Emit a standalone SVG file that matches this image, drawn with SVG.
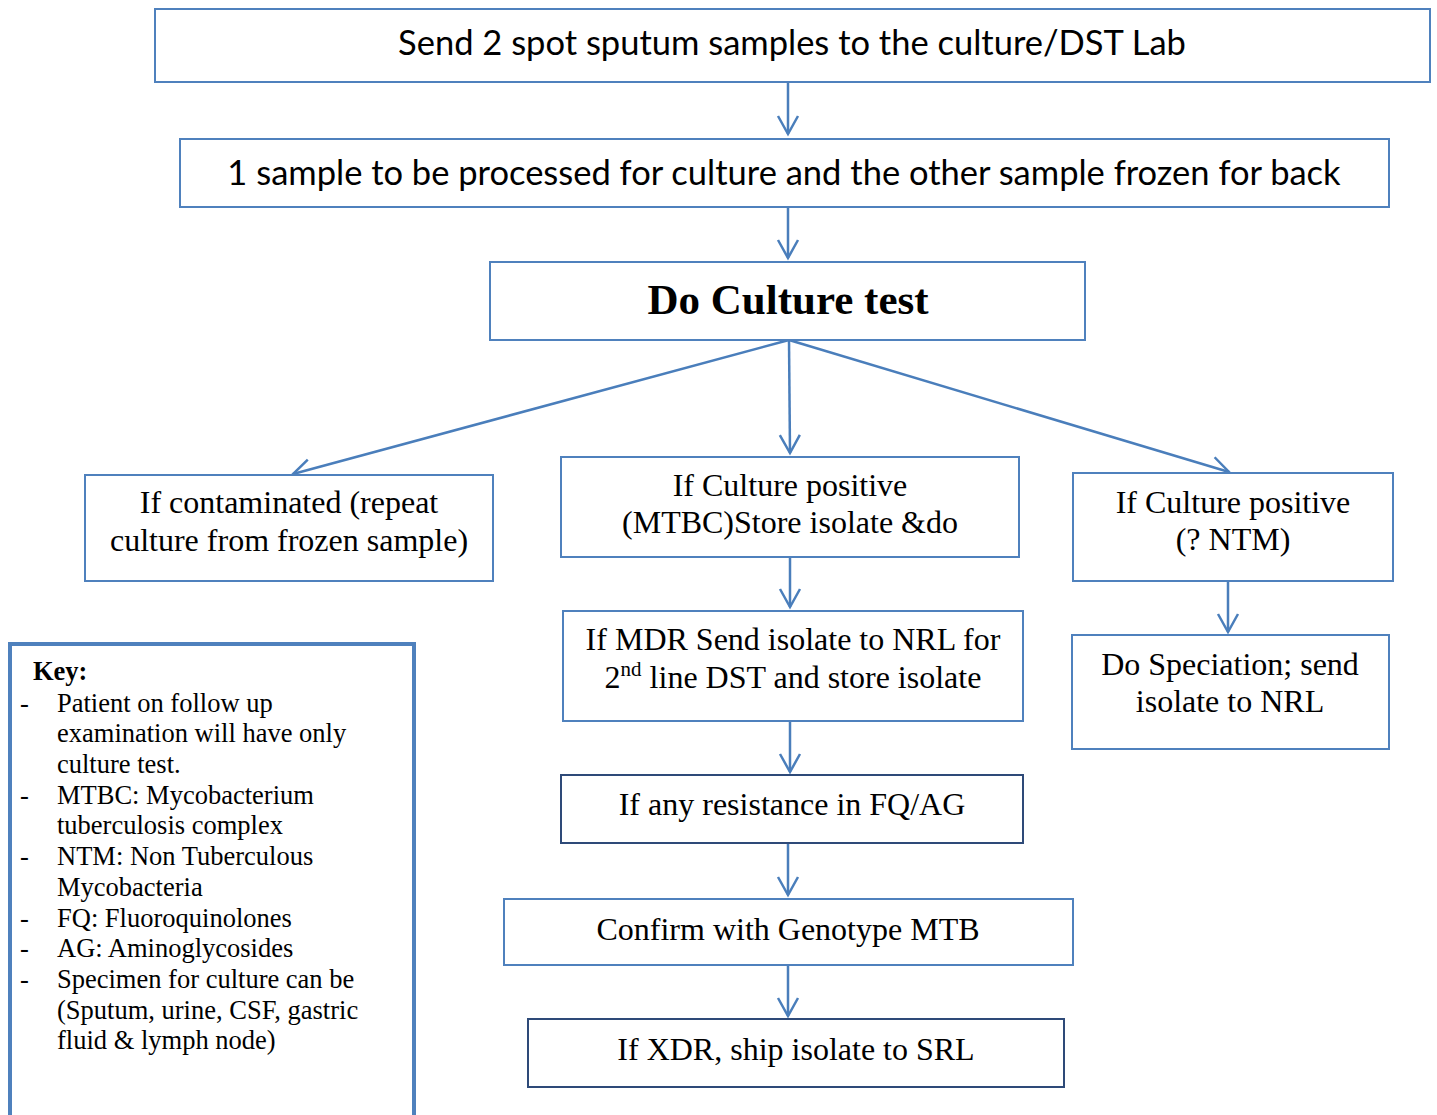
<svg xmlns="http://www.w3.org/2000/svg" width="1437" height="1115" viewBox="0 0 1437 1115">
<style>
.box{fill:#fff;stroke:#4F81BD;stroke-width:2}
.dark{fill:#fff;stroke:#2E4A78;stroke-width:2}
.sans{font-family:Lato,"Liberation Sans",sans-serif;font-size:34.5px;fill:#000;text-anchor:middle}
.ser{font-family:"Liberation Serif","Times New Roman",serif;font-size:32px;fill:#000;text-anchor:middle}
.key{font-family:"Liberation Serif","Times New Roman",serif;font-size:26.5px;fill:#000}
.conn{stroke:#4A7EBB;stroke-width:2.5;fill:none}
</style>
<defs>
<marker id="arr" markerUnits="userSpaceOnUse" markerWidth="24" markerHeight="24" viewBox="0 0 24 24" refX="20" refY="12" orient="auto">
<path d="M2,2 L20,12 L2,22" fill="none" stroke="#4A7EBB" stroke-width="2.5"/>
</marker>
</defs>
<g id="connectors">
<line class="conn" x1="788" y1="82" x2="788" y2="134" marker-end="url(#arr)"/>
<line class="conn" x1="788" y1="207" x2="788" y2="258" marker-end="url(#arr)"/>
<line class="conn" x1="789" y1="340" x2="293" y2="474" marker-end="url(#arr)"/>
<line class="conn" x1="789" y1="340" x2="790" y2="453" marker-end="url(#arr)"/>
<line class="conn" x1="789" y1="340" x2="1229" y2="472" marker-end="url(#arr)"/>
<line class="conn" x1="790" y1="557" x2="790" y2="607" marker-end="url(#arr)"/>
<line class="conn" x1="1228" y1="581" x2="1228" y2="632" marker-end="url(#arr)"/>
<line class="conn" x1="790" y1="721" x2="790" y2="772" marker-end="url(#arr)"/>
<line class="conn" x1="788" y1="843" x2="788" y2="895" marker-end="url(#arr)"/>
<line class="conn" x1="788" y1="965" x2="788" y2="1016" marker-end="url(#arr)"/>
</g>
<g id="n1"><rect class="box" x="155" y="9" width="1275" height="73"/><text class="sans" x="792" y="55">Send 2 spot sputum samples to the culture/DST Lab</text></g>
<g id="n2"><rect class="box" x="180" y="139" width="1209" height="68"/><text class="sans" x="784" y="185">1 sample to be processed for culture and the other sample frozen for back</text></g>
<g id="n3"><rect class="box" x="490" y="262" width="595" height="78"/><text class="ser" x="788" y="314" style="font-weight:bold;font-size:43px">Do Culture test</text></g>
<g id="n4"><rect class="box" x="85" y="475" width="408" height="106"/><text class="ser" x="289" y="513">If contaminated (repeat</text><text class="ser" x="289" y="551">culture from frozen sample)</text></g>
<g id="n5"><rect class="box" x="561" y="457" width="458" height="100"/><text class="ser" x="790" y="496">If Culture positive</text><text class="ser" x="790" y="533">(MTBC)Store isolate &amp;do</text></g>
<g id="n6"><rect class="box" x="1073" y="473" width="320" height="108"/><text class="ser" x="1233" y="513">If Culture positive</text><text class="ser" x="1233" y="550">(? NTM)</text></g>
<g id="n7"><rect class="box" x="1072" y="635" width="317" height="114"/><text class="ser" x="1230" y="675">Do Speciation; send</text><text class="ser" x="1230" y="712">isolate to NRL</text></g>
<g id="n8"><rect class="box" x="563" y="611" width="460" height="110"/><text class="ser" x="793" y="650">If MDR Send isolate to NRL for</text><text class="ser" x="793" y="688">2<tspan dy="-12" style="font-size:21px">nd</tspan><tspan dy="12"> line DST and store isolate</tspan></text></g>
<g id="n9"><rect class="dark" x="561" y="775" width="462" height="68"/><text class="ser" x="792" y="815">If any resistance in FQ/AG</text></g>
<g id="n10"><rect class="box" x="504" y="899" width="569" height="66"/><text class="ser" x="788" y="940">Confirm with Genotype MTB</text></g>
<g id="n11"><rect class="dark" x="528" y="1019" width="536" height="68"/><text class="ser" x="796" y="1060">If XDR, ship isolate to SRL</text></g>
<g id="key">
<rect x="10" y="644" width="404" height="480" fill="#fff" stroke="#4F81BD" stroke-width="4"/>
<text class="key" x="33" y="680" font-weight="bold">Key:</text>
<g class="key">
<text class="key" x="20" y="712">-</text><text class="key" x="57" y="712">Patient on follow up</text>
<text class="key" x="57" y="742">examination will have only</text>
<text class="key" x="57" y="773">culture test.</text>
<text class="key" x="20" y="804">-</text><text class="key" x="57" y="804">MTBC: Mycobacterium</text>
<text class="key" x="57" y="834">tuberculosis complex</text>
<text class="key" x="20" y="865">-</text><text class="key" x="57" y="865">NTM: Non Tuberculous</text>
<text class="key" x="57" y="896">Mycobacteria</text>
<text class="key" x="20" y="927">-</text><text class="key" x="57" y="927">FQ: Fluoroquinolones</text>
<text class="key" x="20" y="957">-</text><text class="key" x="57" y="957">AG: Aminoglycosides</text>
<text class="key" x="20" y="988">-</text><text class="key" x="57" y="988">Specimen for culture can be</text>
<text class="key" x="57" y="1019">(Sputum, urine, CSF, gastric</text>
<text class="key" x="57" y="1049">fluid &amp; lymph node)</text>
</g>
</g>
</svg>
